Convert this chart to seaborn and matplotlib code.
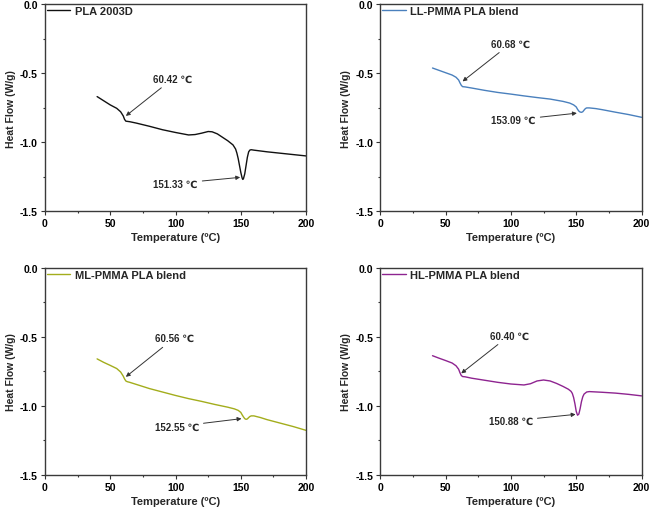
import numpy as np
import pandas as pd
import matplotlib
matplotlib.use('Agg')
import matplotlib.pyplot as plt
from matplotlib.ticker import MultipleLocator
import seaborn as sns

# DSC curves (temperature in C, heat flow in W/g)
pla_x = [40, 45, 50, 55, 58, 60, 61, 62, 65, 70, 80, 90, 100, 110, 115, 120, 125, 128, 132, 136,
         140, 144, 146, 147, 148, 149, 150, 151, 151.5, 152, 153, 154, 155, 156, 157, 158, 160, 170, 180, 190, 200]
pla_y = [-0.67, -0.70, -0.73, -0.755, -0.78, -0.81, -0.835, -0.848, -0.852, -0.862, -0.885, -0.91, -0.93,
         -0.948, -0.945, -0.935, -0.923, -0.925, -0.94, -0.965, -0.99, -1.02, -1.05, -1.08, -1.12, -1.17,
         -1.22, -1.26, -1.27, -1.265, -1.23, -1.17, -1.11, -1.07, -1.057, -1.055, -1.058, -1.07, -1.08, -1.09, -1.10]

ll_x = [40, 45, 50, 55, 58, 60, 61, 62, 63, 65, 70, 80, 90, 100, 110, 120, 130, 140, 145, 148,
        150, 151, 152, 153, 154, 155, 156, 157, 158, 160, 165, 170, 180, 190, 200]
ll_y = [-0.463, -0.48, -0.497, -0.514, -0.53, -0.55, -0.57, -0.588, -0.598, -0.60, -0.608, -0.625,
        -0.64, -0.652, -0.665, -0.677, -0.688, -0.705, -0.717, -0.73, -0.745, -0.762, -0.775, -0.782,
        -0.784, -0.78, -0.768, -0.757, -0.752, -0.752, -0.757, -0.765, -0.783, -0.80, -0.82]

ml_x = [40, 45, 50, 55, 58, 60, 61, 62, 63, 65, 70, 80, 90, 100, 110, 120, 130, 140, 145, 148,
        150, 151, 152, 153, 154, 155, 156, 157, 158, 160, 165, 170, 180, 190, 200]
ml_y = [-0.66, -0.685, -0.707, -0.73, -0.755, -0.785, -0.805, -0.82, -0.825, -0.83, -0.845, -0.875,
        -0.90, -0.925, -0.948, -0.968, -0.99, -1.01, -1.022, -1.033, -1.048, -1.065, -1.08, -1.093,
        -1.098, -1.095, -1.085, -1.077, -1.073, -1.073, -1.085, -1.10, -1.125, -1.15, -1.178]

hl_x = [40, 45, 50, 55, 58, 60, 61, 62, 63, 65, 70, 80, 90, 100, 110, 115, 120, 125, 130, 135,
        140, 144, 146, 147, 148, 149, 150, 151, 152, 153, 154, 155, 156, 158, 160, 170, 180, 190, 200]
hl_y = [-0.637, -0.655, -0.672, -0.69, -0.71, -0.735, -0.76, -0.78, -0.788, -0.79, -0.80, -0.815,
        -0.83, -0.842, -0.849, -0.84, -0.82, -0.813, -0.82, -0.838, -0.86, -0.88, -0.895, -0.91,
        -0.94, -0.985, -1.04, -1.068, -1.06, -1.02, -0.97, -0.935, -0.915, -0.90, -0.897, -0.902,
        -0.908, -0.917, -0.928]

names = ['PLA 2003D', 'LL-PMMA PLA blend', 'ML-PMMA PLA blend', 'HL-PMMA PLA blend']
colors = ['#111111', '#4a80bd', '#a3ad1c', '#8e2490']
curves_x = [pla_x, ll_x, ml_x, hl_x]
curves_y = [pla_y, ll_y, ml_y, hl_y]

# (label, point on curve, text position)
tg_labels = ['60.42 \u2103', '60.68 \u2103', '60.56 \u2103', '60.40 \u2103']
tg_points = [(62, -0.81), (63, -0.56), (62, -0.79), (62, -0.765)]
tg_text = [(83, -0.54), (85, -0.285), (84, -0.51), (84, -0.49)]
tm_labels = ['151.33 \u2103', '153.09 \u2103', '152.55 \u2103', '150.88 \u2103']
tm_points = [(149.5, -1.255), (150.5, -0.79), (150.5, -1.093), (149.5, -1.062)]
tm_text = [(83, -1.30), (85, -0.84), (84, -1.15), (83, -1.11)]

sns.set_style('white')
plt.rcParams['font.family'] = ['Liberation Sans', 'DejaVu Sans']
plt.rcParams['font.weight'] = 'bold'

fig = plt.figure(figsize=(6.5, 5.1), dpi=100)
positions = [[0.069, 0.584, 0.402, 0.406], [0.585, 0.584, 0.402, 0.406],
             [0.069, 0.067, 0.402, 0.406], [0.585, 0.067, 0.402, 0.406]]

for i in range(4):
    ax = fig.add_axes(positions[i])
    df = pd.DataFrame({'T': curves_x[i], 'HF': curves_y[i]})
    sns.lineplot(data=df, x='T', y='HF', ax=ax, color=colors[i], lw=1.0, label=names[i])
    ax.set_xlim(0, 200)
    ax.set_ylim(-1.5, 0.0)
    ax.xaxis.set_major_locator(MultipleLocator(50))
    ax.xaxis.set_minor_locator(MultipleLocator(25))
    ax.yaxis.set_major_locator(MultipleLocator(0.5))
    ax.yaxis.set_minor_locator(MultipleLocator(0.25))
    ax.tick_params(which='major', direction='out', length=3, width=0.8, labelsize=7.5,
                   bottom=True, left=True, pad=2, colors='#333333', labelcolor='black')
    ax.tick_params(which='minor', direction='out', length=1.5, width=0.8,
                   bottom=True, left=True, colors='#333333')
    ax.set_yticklabels(['%.1f' % v for v in ax.get_yticks()])
    for s in ax.spines.values():
        s.set_color('#3a3a3a')
        s.set_linewidth(1.0)
    ax.set_xlabel('Temperature (\u00baC)', fontsize=8, fontweight='bold', labelpad=3)
    ax.set_ylabel('Heat Flow (W/g)', fontsize=7.5, fontweight='bold', labelpad=3)
    leg = ax.legend(loc='upper left', frameon=False, fontsize=8, handlelength=2.1,
                    borderaxespad=0.0, borderpad=0.2, handletextpad=0.4)
    for t in leg.get_texts():
        t.set_fontweight('bold')
    for lab, pt, tx in [(tg_labels[i], tg_points[i], tg_text[i]),
                        (tm_labels[i], tm_points[i], tm_text[i])]:
        ax.annotate(lab, xy=pt, xytext=tx, fontsize=7, fontweight='bold',
                    va='center', ha='left',
                    arrowprops=dict(arrowstyle='-|>', color='#333333', lw=0.7,
                                    mutation_scale=6, shrinkA=1, shrinkB=0))

fig.savefig('out.png', dpi=100)
